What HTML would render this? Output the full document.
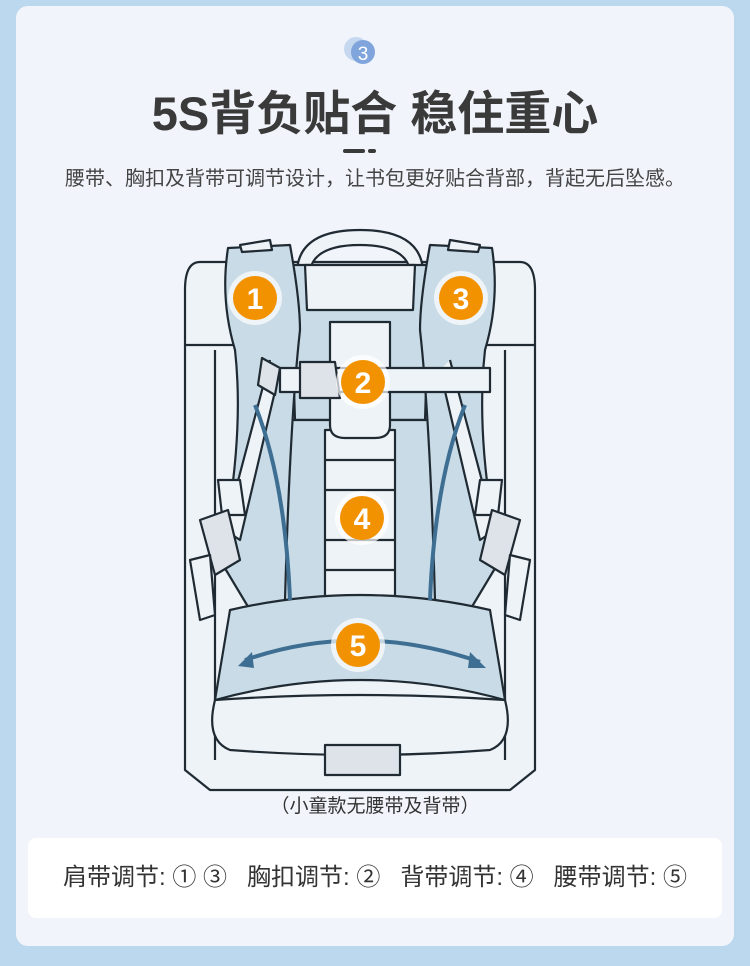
<!DOCTYPE html>
<html><head><meta charset="utf-8"><style>
html,body{margin:0;padding:0}
body{width:750px;height:966px;background:#bcd8ee;position:relative;overflow:hidden;font-family:"Liberation Sans","Noto Sans CJK SC",sans-serif}
.card{position:absolute;left:16px;top:6px;width:718px;height:940px;background:#f1f5fb;border-radius:12px}
.t{position:absolute;left:0;width:750px;text-align:center;color:#3a3a3a;white-space:nowrap}
.box{position:absolute;left:28px;top:838px;width:694px;height:80px;background:#fff;border-radius:8px}
</style></head><body>
<div class="card"></div>
<svg style="position:absolute;left:0;top:0" width="750" height="966">
<circle cx="356" cy="49" r="12" fill="#c5d8ef"/>
<circle cx="363" cy="52" r="12" fill="#7fa5dc"/>
<text x="363" y="60" font-size="19" fill="#fff" text-anchor="middle" font-family="Liberation Sans,sans-serif">3</text>
<rect x="343" y="149" width="22" height="4" rx="2" fill="#3a3a3a"/><rect x="368" y="149" width="8" height="4" rx="2" fill="#3a3a3a"/>
<g stroke="#1f2a33" stroke-width="2.2" fill="none" stroke-linejoin="round">
<path d="M200 262 Q185 262 185 290 L185 770 L210 790 L510 790 L535 770 L535 290 Q535 262 520 262 Z" fill="#eef3f8"/>
<path d="M215 350 L215 760 M505 350 L505 760"/>
<path d="M185 345 L535 345"/>
<path d="M297 270 Q300 230 360 230 Q420 230 423 270 L410 270 Q405 245 360 245 Q315 245 310 270 Z" fill="#eef3f8"/>
<path d="M290 265 L430 265 L425 420 L295 420 Z" fill="#c8dbe6"/>
<path d="M305 265 L415 265 L413 310 L307 310 Z" fill="#eef3f8"/>
<path d="M265 420 L455 420 L470 610 L250 610 Z" fill="#c8dbe6"/>
<path d="M325 430 L395 430 L395 600 L325 600 Z" fill="#eef3f8"/>
<path d="M325 460 L395 460 M325 490 L395 490 M325 540 L395 540 M325 570 L395 570"/>
<path d="M228 248 L290 245 Q300 300 300 330 Q290 420 285 600 L250 610 L220 560 Q245 440 235 350 Q220 300 228 248 Z" fill="#c8dbe6"/>
<path d="M240 245 L270 240 L272 250 L242 252 Z" fill="#eef3f8"/>
<path d="M270 360 L225 530 L240 540 L280 370" fill="#eef3f8"/>
<path d="M218 480 L240 480 L245 515 L222 515 Z" fill="#eef3f8"/>
<path d="M200 520 L228 510 L240 560 L215 575 Z" fill="#dde3e8"/>
<path d="M190 560 L200 620 L215 615 L210 555 Z" fill="#eef3f8"/>
<path d="M492 248 L430 245 Q420 300 420 330 Q430 420 435 600 L470 610 L500 560 Q475 440 485 350 Q500 300 492 248 Z" fill="#c8dbe6"/>
<path d="M480 245 L450 240 L448 250 L478 252 Z" fill="#eef3f8"/>
<path d="M450 360 L495 530 L480 540 L440 370" fill="#eef3f8"/>
<path d="M502 480 L480 480 L475 515 L498 515 Z" fill="#eef3f8"/>
<path d="M520 520 L492 510 L480 560 L505 575 Z" fill="#dde3e8"/>
<path d="M530 560 L520 620 L505 615 L510 555 Z" fill="#eef3f8"/>
<path d="M330 322 L390 322 L390 425 Q390 438 375 438 L345 438 Q330 438 330 425 Z" fill="#eef3f8"/>
<path d="M280 368 L490 368 L490 392 L280 392 Z" fill="#eef3f8"/>
<path d="M300 362 L335 362 L340 398 L300 398 Z" fill="#dde3e8"/>
<path d="M262 358 L280 368 L275 395 L258 385 Z" fill="#dde3e8"/>
<path d="M230 610 Q360 580 490 610 L505 700 Q360 660 215 700 Z" fill="#c8dbe6"/>
<path d="M215 700 Q205 740 230 750 Q360 760 490 750 Q515 740 505 700 Q360 690 215 700 Z" fill="#eef3f8"/>
<path d="M325 745 L400 745 L400 775 L325 775 Z" fill="#dde3e8"/>
</g>
<g stroke="#3e6f93" stroke-width="4" fill="none">
<path d="M255 405 Q285 480 290 600"/><path d="M465 405 Q435 480 430 600"/>
<path d="M245 660 Q360 620 480 662"/>
</g>
<polygon points="238,666 252,652 254,668" fill="#3e6f93"/><polygon points="486,668 470,652 468,668" fill="#3e6f93"/>
<g font-family="Liberation Sans,sans-serif" font-weight="bold" font-size="30" fill="#fff" text-anchor="middle">
<circle cx="255" cy="298" r="27" fill="#fff" opacity=".7"/><circle cx="255" cy="298" r="22" fill="#f39200"/><text x="255" y="309">1</text>
<circle cx="461" cy="298" r="27" fill="#fff" opacity=".7"/><circle cx="461" cy="298" r="22" fill="#f39200"/><text x="461" y="309">3</text>
<circle cx="363" cy="382" r="27" fill="#fff" opacity=".7"/><circle cx="363" cy="382" r="22" fill="#f39200"/><text x="363" y="393">2</text>
<circle cx="362" cy="518" r="27" fill="#fff" opacity=".7"/><circle cx="362" cy="518" r="22" fill="#f39200"/><text x="362" y="529">4</text>
<circle cx="358" cy="645" r="27" fill="#fff" opacity=".7"/><circle cx="358" cy="645" r="22" fill="#f39200"/><text x="358" y="656">5</text>
</g>
</svg>
<div class="t" style="top:84px;font-size:47px;font-weight:bold;line-height:60px">5S背负贴合 稳住重心</div>
<div class="t" style="top:166px;font-size:20px;line-height:26px;color:#444">腰带、胸扣及背带可调节设计，让书包更好贴合背部，背起无后坠感。</div>
<div class="t" style="top:795px;font-size:19px;line-height:24px;color:#333">（小童款无腰带及背带）</div>
<div class="box"></div>
<div class="t" style="top:862px;font-size:24px;line-height:32px;color:#333">肩带调节: ① ③ &nbsp; 胸扣调节: ② &nbsp; 背带调节: ④ &nbsp; 腰带调节: ⑤</div>
</body></html>
